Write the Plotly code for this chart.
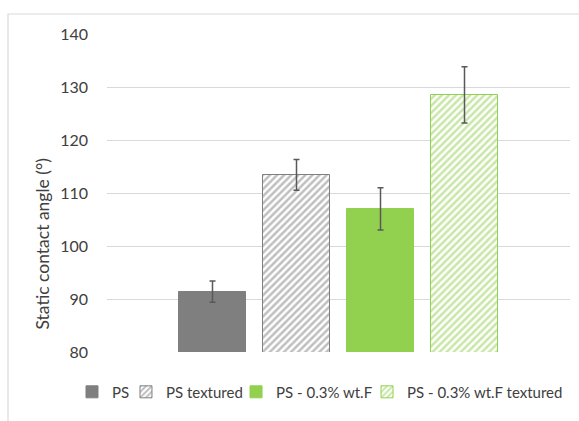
import plotly.graph_objects as go

categories = ["PS", "PS textured", "PS - 0.3% wt.F", "PS - 0.3% wt.F textured"]
values = [91.4, 113.4, 107.0, 128.5]
errors = [2.0, 2.9, 4.0, 5.3]
y_ticks = [80, 90, 100, 110, 120, 130, 140]

colors = ["#7f7f7f", "#7f7f7f", "#92d050", "#92d050"]
textured = [False, True, False, True]
legend_x = [-0.0756, 0.0410, 0.2787, 0.5616]

FONT = "Lato, 'Open Sans', sans-serif"
TXT = "#404040"

fig = go.Figure()
for i, (name, v, e, c, t) in enumerate(zip(categories, values, errors, colors, textured)):
    marker = dict(color=c if not t else "white", line=dict(color=c, width=1))
    if t:
        marker["pattern"] = dict(shape="/", fgcolor=c, bgcolor="white", size=5, solidity=0.5)
    lg = "legend" if i == 0 else f"legend{i+1}"
    fig.add_trace(go.Bar(
        x=[i], y=[v], name=name, width=0.79, marker=marker, legend=lg,
        error_y=dict(type="data", array=[e], visible=True, color="#595959", thickness=1.5, width=3),
    ))

legend_common = dict(orientation="h", xanchor="left", y=-0.126, yanchor="middle",
                     font=dict(size=15, color=TXT, family=FONT), itemwidth=30,
                     bgcolor="rgba(0,0,0,0)")
layout_legends = {}
for i, lx in enumerate(legend_x):
    key = "legend" if i == 0 else f"legend{i+1}"
    layout_legends[key] = dict(legend_common, x=lx)

fig.update_layout(
    width=579, height=421,
    margin=dict(l=107, r=9, t=34, b=69),
    paper_bgcolor="white", plot_bgcolor="white",
    font=dict(family=FONT, color=TXT),
    showlegend=True,
    xaxis=dict(range=[-1.256, 4.256], showticklabels=False, showgrid=False, zeroline=False,
               showline=False, fixedrange=True),
    yaxis=dict(range=[80, 140], tickvals=y_ticks, showgrid=True, gridcolor="#d9d9d9", gridwidth=1,
               zeroline=False, showline=False, tickfont=dict(size=16, color=TXT),
               ticklabelstandoff=18, automargin=False, fixedrange=True),
    bargap=0,
    annotations=[dict(text="Static contact angle (°)", xref="paper", yref="paper",
                      x=-0.1382, y=0.338, textangle=-90, showarrow=False,
                      xanchor="center", yanchor="middle",
                      font=dict(size=17.5, color=TXT, family=FONT))],
    shapes=[dict(type="rect", xref="paper", yref="paper", x0=-0.2138, x1=1.2, y0=-0.5, y1=1.0629,
                 line=dict(color="#d9d9d9", width=1.2), fillcolor="rgba(0,0,0,0)", layer="below")],
    **layout_legends,
)

fig.write_html("out.html", config={"displayModeBar": False},
               post_script="document.body.style.margin='0';")
